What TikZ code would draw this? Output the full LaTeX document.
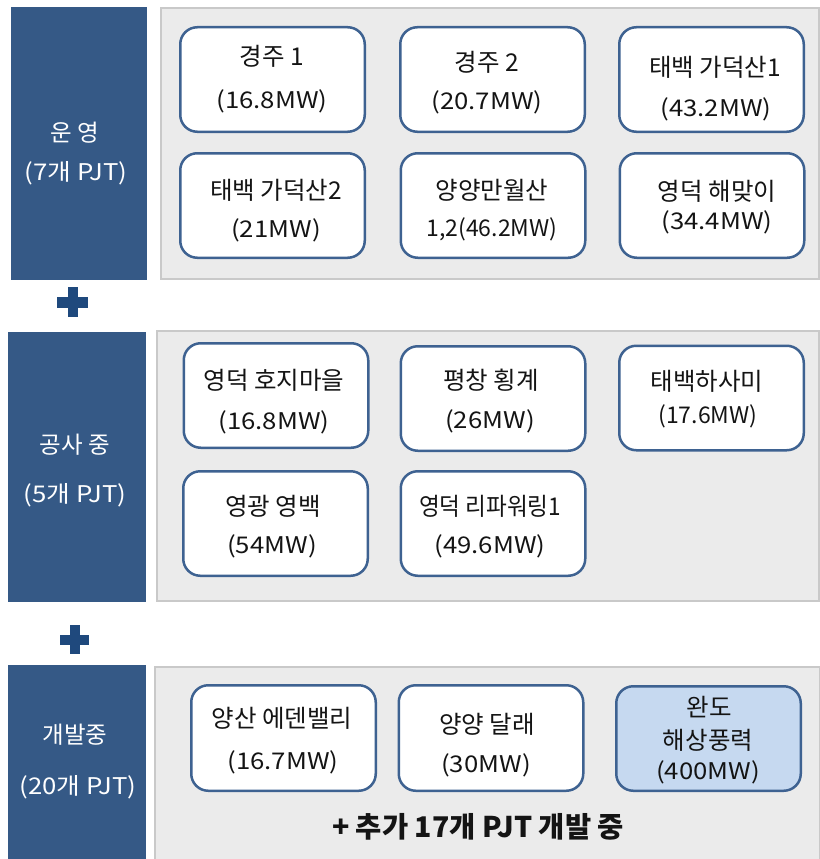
\documentclass[tikz,border=0pt]{standalone}
\usepackage{fontspec}
\newfontfamily\kr{Noto Sans CJK KR}
\newfontfamily\krw[FakeStretch=1.12]{Noto Sans CJK KR}
\newfontfamily\krn[FakeStretch=0.92]{Noto Sans CJK KR}
\definecolor{panelfill}{RGB}{235,235,235}
\definecolor{paneledge}{RGB}{201,201,201}
\definecolor{sidefill}{RGB}{53,89,134}
\definecolor{boxedge}{RGB}{62,98,145}
\definecolor{hifill}{RGB}{198,217,240}
\definecolor{plusblue}{RGB}{31,73,125}
\definecolor{txt}{RGB}{20,20,20}
\begin{document}
\begin{tikzpicture}[x=1pt,y=-1pt,
  panel/.style={draw=paneledge,fill=panelfill,line width=1.5pt},
  side/.style={fill=sidefill},
  pbox/.style={draw=boxedge,fill=white,line width=2.5pt,rounded corners=17pt,
    minimum width=184.5pt,minimum height=104.5pt,inner sep=0pt},
  hbox/.style={pbox,fill=hifill},
  ln/.style={anchor=base,inner sep=0pt,text=txt,font=\kr\fontsize{24.5}{28}\selectfont},
  lnd/.style={ln,font=\kr\fontsize{23}{28}\selectfont},
  lnw/.style={ln,font=\krw\fontsize{23}{28}\selectfont},
  lnn/.style={ln,font=\krn\fontsize{24.5}{28}\selectfont},
  sl/.style={anchor=base,inner sep=0pt,text=white,font=\kr\fontsize{23.5}{28}\selectfont},
  slw/.style={sl,font=\krw\fontsize{23}{28}\selectfont},
  plusbar/.style={fill=plusblue}
]
\useasboundingbox (0,0) rectangle (819,859);
% panels
\path[panel] (161,8) rectangle (819,279);
\path[panel] (157,331) rectangle (819,601);
\path[panel] (155,667) rectangle (820,860);
% side boxes
\path[side] (11,7) rectangle (147,280);
\path[side] (8,332) rectangle (146,602);
\path[side] (8,665) rectangle (146,859);
% plus signs
\path[plusbar] (67.5,287) rectangle (78,317);
\path[plusbar] (57,297) rectangle (88,307.5);
\path[plusbar] (69.5,625) rectangle (80,654);
\path[plusbar] (60,634.5) rectangle (89,645);
% side labels
\node[sl] (s1a) at (75,141) {운 영};
\node[slw] (s1b) at (76,180) {(7개 PJT)};
\node[sl] (s2a) at (75,453) {공사 중};
\node[slw] (s2b) at (75,502) {(5개 PJT)};
\node[sl] (s3a) at (75,743) {개발중};
\node[slw] (s3b) at (78,794) {(20개 PJT)};
% boxes
\node[pbox] (b1) at (272.5,79.5) {};
\node[pbox] (b2) at (492.5,79.5) {};
\node[pbox] (b3) at (711.5,79.5) {};
\node[pbox] (b4) at (272.5,205.5) {};
\node[pbox] (b5) at (493,205.5) {};
\node[pbox] (b6) at (712,205.5) {};
\node[pbox] (c1) at (276,395.5) {};
\node[pbox] (c2) at (493,398.5) {};
\node[pbox] (c3) at (711.5,398) {};
\node[pbox] (c4) at (275.5,523.5) {};
\node[pbox] (c5) at (493,523.5) {};
\node[pbox,minimum height=105.5pt] (d1) at (283.5,738) {};
\node[pbox,minimum height=105.5pt] (d2) at (491,738) {};
\node[hbox] (d3) at (708.5,738.5) {};
% texts
\node[ln] (b1a) at (272,66) {경주 1};
\node[lnw] (b1b) at (272,108) {(16.8MW)};
\node[ln] (b2a) at (487,71) {경주 2};
\node[lnw] (b2b) at (487,109) {(20.7MW)};
\node[ln] (b3a) at (715,77) {태백 가덕산1};
\node[lnw] (b3b) at (716,116) {(43.2MW)};
\node[ln] (b4a) at (276,199) {태백 가덕산2};
\node[lnw] (b4b) at (276,237) {(21MW)};
\node[ln] (b5a) at (492,199) {양양만월산};
\node[lnd] (b5b) at (492,236) {1,2(46.2MW)};
\node[ln] (b6a) at (717,200) {영덕 해맞이};
\node[lnw] (b6b) at (717,229) {(34.4MW)};
\node[ln] (c1a) at (274,389) {영덕 호지마을};
\node[lnw] (c1b) at (274,429) {(16.8MW)};
\node[ln] (c2a) at (491,389) {평창 횡계};
\node[lnw] (c2b) at (490,428) {(26MW)};
\node[ln] (c3a) at (707,390) {태백하사미};
\node[lnd] (c3b) at (708,423) {(17.6MW)};
\node[ln] (c4a) at (273,515) {영광 영백};
\node[lnw] (c4b) at (272,553) {(54MW)};
\node[lnn] (c5a) at (490,515) {영덕 리파워링1};
\node[lnw] (c5b) at (490,553) {(49.6MW)};
\node[ln] (d1a) at (282,727) {양산 에덴밸리};
\node[lnw] (d1b) at (283,769) {(16.7MW)};
\node[ln] (d2a) at (487,733) {양양 달래};
\node[lnw] (d2b) at (486,772) {(30MW)};
\node[ln] (d3a) at (709,716) {완도};
\node[ln] (d3b) at (708,749) {해상풍력};
\node[lnw] (d3c) at (708,779) {(400MW)};
\node[anchor=base,inner sep=0pt,text=txt,font=\kr\bfseries\fontsize{28.5}{32}\selectfont] (more) at (478,837) {+ 추가 17개 PJT 개발 중};
\end{tikzpicture}
\end{document}
